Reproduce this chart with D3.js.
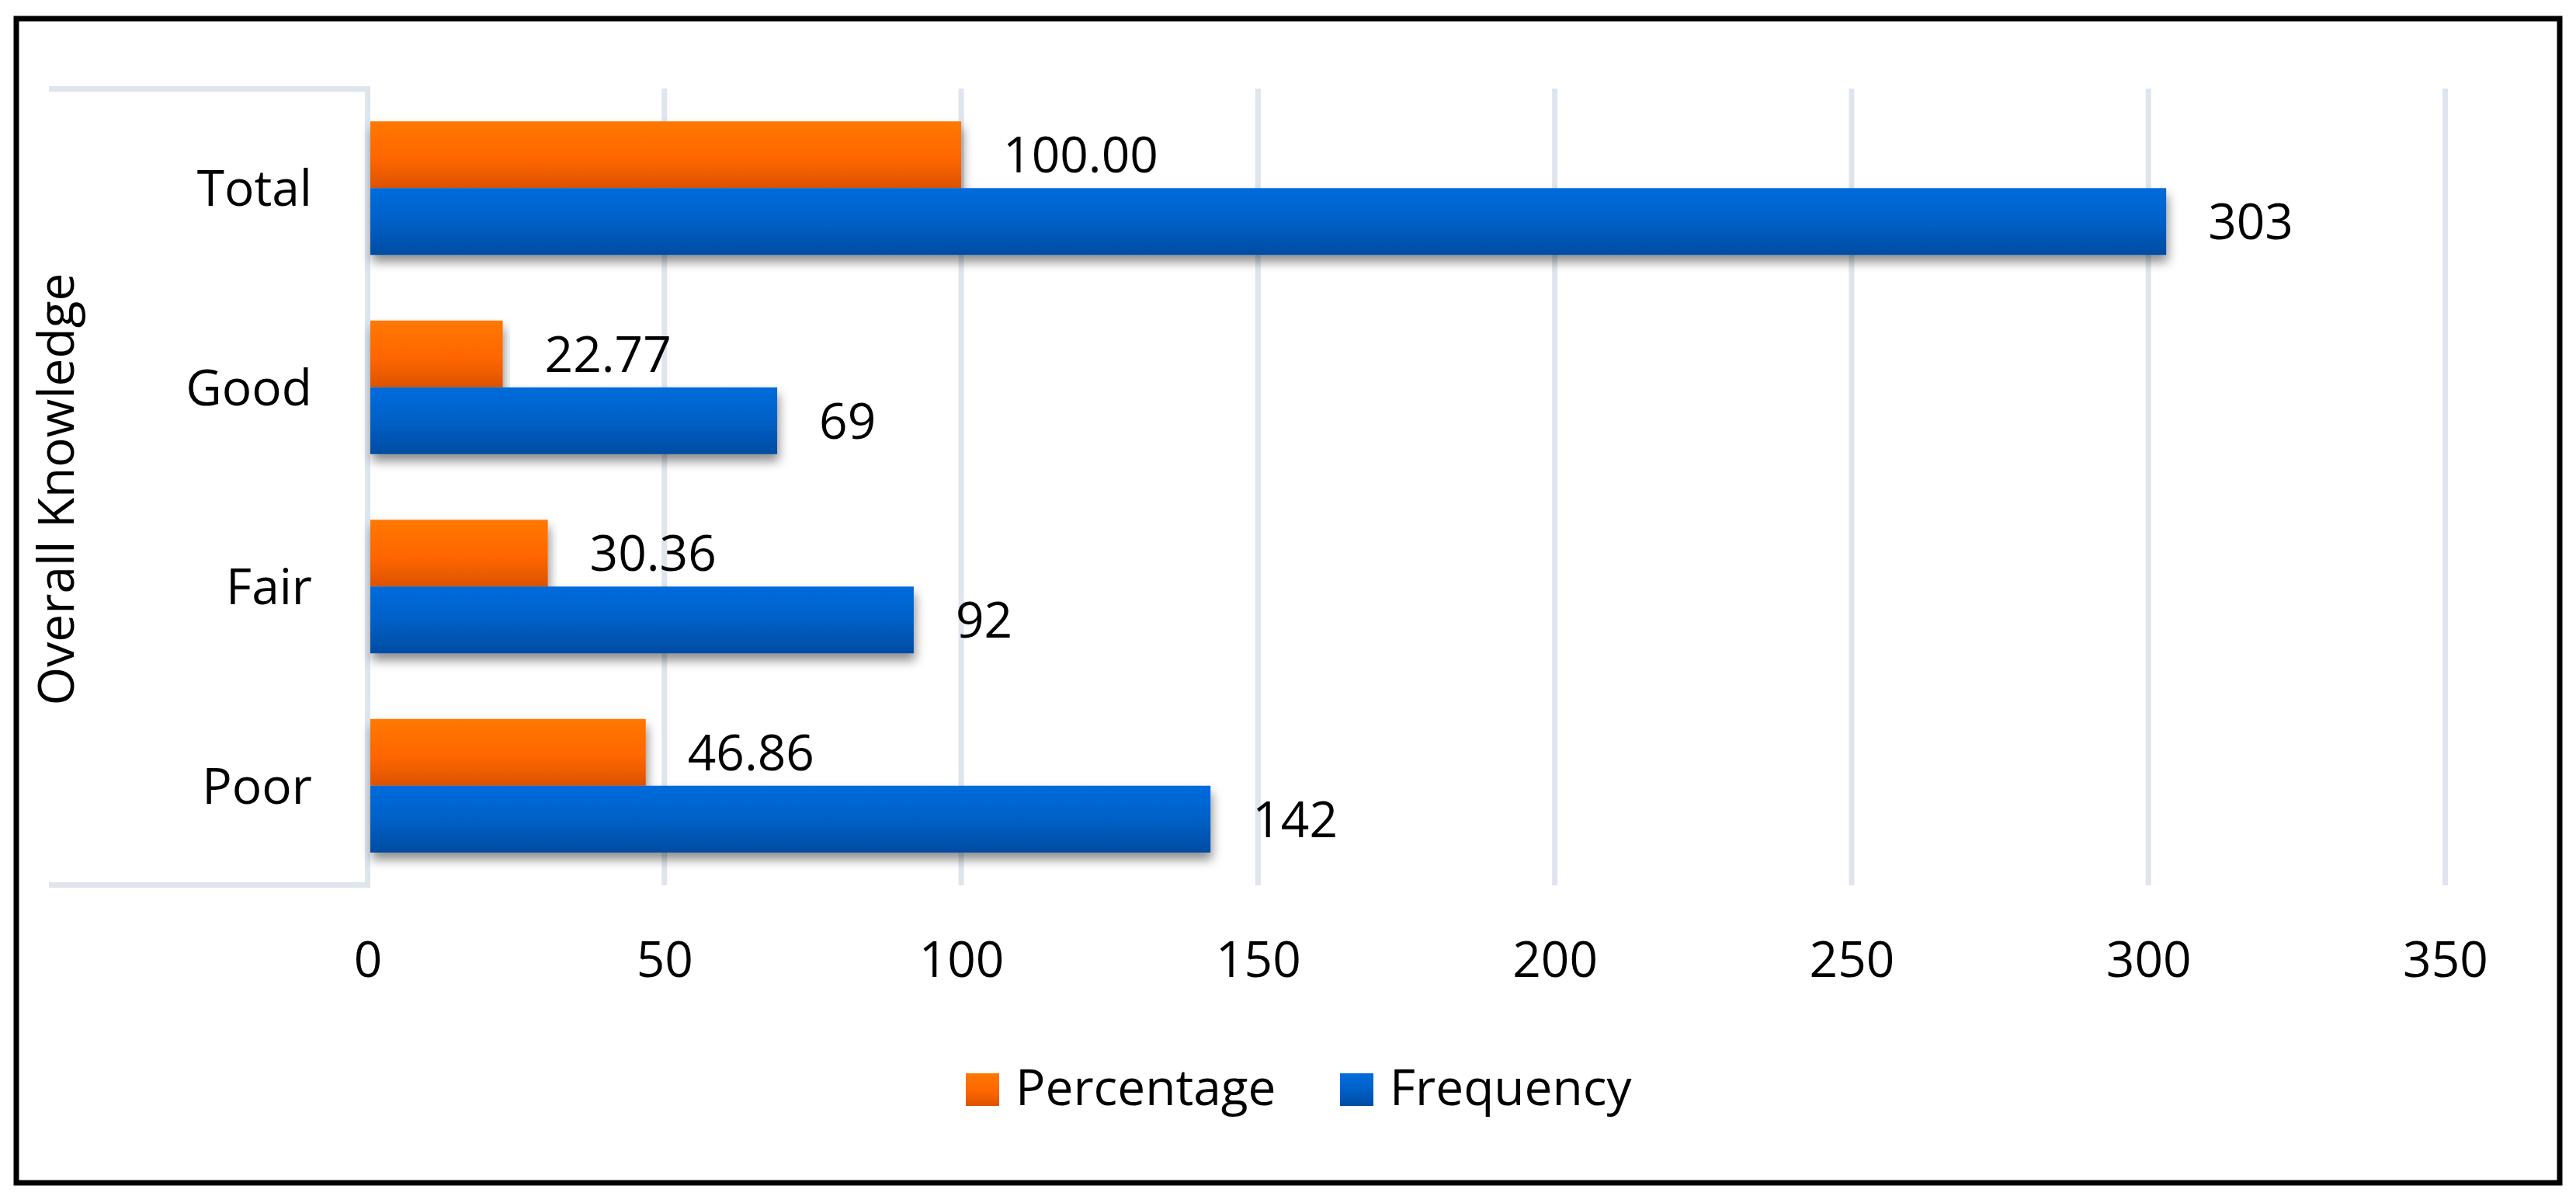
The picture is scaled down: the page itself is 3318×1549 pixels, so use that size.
<!DOCTYPE html>
<html>
<head>
<meta charset="utf-8">
<script src="https://cdn.jsdelivr.net/npm/d3@7"></script>
<style>
  html, body { margin: 0; padding: 0; background: #ffffff; }
  svg { display: block; }
  text { font-family: "Open Sans", "Noto Sans", sans-serif; fill: #000; }
</style>
</head>
<body>
<svg id="chart" width="3318" height="1549"></svg>
<script>
// ---- data (bottom-up order as in the source chart) ----
const categories = ["Poor", "Fair", "Good", "Total"];
const percentage = [46.86, 30.36, 22.77, 100.00];
const frequency = [142, 92, 69, 303];
const seriesNames = ["Percentage", "Frequency"];
const xTicks = [0, 50, 100, 150, 200, 250, 300, 350];
const axisTitle = "Overall Knowledge";

const W = 3318, H = 1549;
const svg = d3.select("#chart");

const defs = svg.append("defs");
function grad(id, stops) {
  const g = defs.append("linearGradient").attr("id", id)
    .attr("x1", 0).attr("y1", 0).attr("x2", 0).attr("y2", 1);
  stops.forEach(s => g.append("stop").attr("offset", s[0]).attr("stop-color", s[1]));
}
grad("gOrange", [[0, "#FF7800"], [0.55, "#FF6600"], [1, "#DC5300"]]);
grad("gBlue", [[0, "#006BDC"], [0.45, "#0062CA"], [1, "#004CA2"]]);

const shadow = defs.append("filter").attr("id", "shadow")
  .attr("x", "-5%").attr("y", "-30%").attr("width", "110%").attr("height", "170%");
shadow.append("feDropShadow").attr("dx", 2).attr("dy", 9).attr("stdDeviation", 7)
  .attr("flood-color", "#000").attr("flood-opacity", 0.45);

// outer frame
svg.append("rect").attr("x", 21).attr("y", 24).attr("width", 3276).attr("height", 1499)
  .attr("fill", "#fff").attr("stroke", "#000").attr("stroke-width", 7);

// scales
const x = d3.scaleLinear().domain([0, 350]).range([473.5, 3149.5]);
const y = d3.scaleBand().domain(categories.slice().reverse()).range([114, 1140])
  .paddingInner(0.3294).paddingOuter(0.1647);
const sub = d3.scaleBand().domain(seriesNames).range([0, y.bandwidth()]);

const gridColor = "#DEE5EC";

// gridlines
svg.append("g").selectAll("line").data(xTicks).join("line")
  .attr("x1", d => x(d)).attr("x2", d => x(d))
  .attr("y1", 114).attr("y2", 1140)
  .attr("stroke", gridColor).attr("stroke-width", 7);

// category axis box lines
svg.append("line").attr("x1", 63).attr("x2", 477).attr("y1", 114.5).attr("y2", 114.5)
  .attr("stroke", gridColor).attr("stroke-width", 7);
svg.append("line").attr("x1", 63).attr("x2", 477).attr("y1", 1139.5).attr("y2", 1139.5)
  .attr("stroke", gridColor).attr("stroke-width", 7);
svg.append("line").attr("x1", x(0)).attr("x2", x(0)).attr("y1", 111).attr("y2", 1143)
  .attr("stroke", gridColor).attr("stroke-width", 7);

// x tick labels via axis
const xAxis = d3.axisBottom(x).tickValues(xTicks).tickSize(0).tickPadding(0).tickFormat(d3.format("d"));
const gx = svg.append("g").attr("transform", "translate(0,1258)").call(xAxis);
gx.select(".domain").remove();
gx.selectAll("text").attr("dy", null).attr("y", 0)
  .style("font-family", '"Open Sans", sans-serif').style("font-size", "64px").attr("fill", "#000");

// y category labels via axis
const yAxis = d3.axisLeft(y).tickSize(0).tickPadding(0);
const gy = svg.append("g").attr("transform", "translate(402,0)").call(yAxis);
gy.select(".domain").remove();
gy.selectAll("text").attr("dy", "0.36em")
  .style("font-family", '"Open Sans", sans-serif').style("font-size", "64px").attr("fill", "#000");

// axis title
svg.append("text").attr("transform", "translate(95,630) rotate(-90)")
  .attr("text-anchor", "middle").style("font-size", "64px").text(axisTitle);

// bars
const rows = categories.map((c, i) => ({ cat: c, Percentage: percentage[i], Frequency: frequency[i] }));
const fills = { Percentage: "url(#gOrange)", Frequency: "url(#gBlue)" };
const fmt = { Percentage: d3.format(".2f"), Frequency: d3.format("d") };

seriesNames.forEach(s => {
  svg.append("g").selectAll("rect").data(rows).join("rect")
    .attr("x", x(0) + 3.5)
    .attr("y", d => y(d.cat) + sub(s))
    .attr("width", d => x(d[s]) - x(0) - 3.5)
    .attr("height", sub.bandwidth())
    .attr("fill", fills[s])
    .attr("filter", "url(#shadow)");
});

seriesNames.forEach(s => {
  svg.append("g").selectAll("text").data(rows).join("text")
    .attr("x", d => x(d[s]) + 54)
    .attr("y", d => y(d.cat) + sub(s) + sub.bandwidth() / 2)
    .attr("dy", "0.36em")
    .style("font-size", "64px")
    .text(d => fmt[s](d[s]));
});

// legend
const legend = svg.append("g");
const legX = [1244, 1726];
seriesNames.forEach((s, i) => {
  legend.append("rect").attr("x", legX[i]).attr("y", 1382).attr("width", 43).attr("height", 42)
    .attr("fill", fills[s]);
  legend.append("text").attr("x", legX[i] + 64).attr("y", 1423)
    .style("font-size", "64px").text(s);
});
</script>
</body>
</html>
